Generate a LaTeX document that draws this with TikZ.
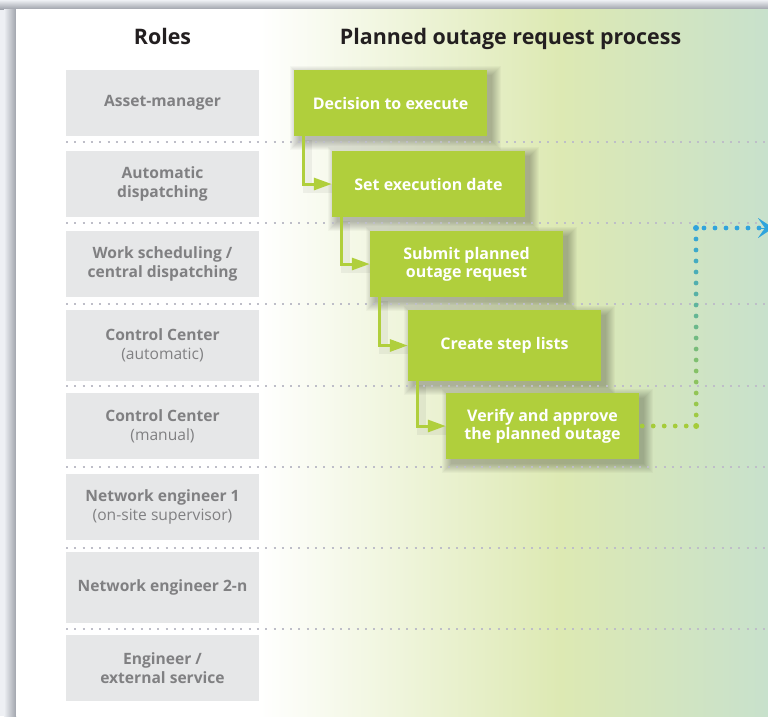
\documentclass[tikz,border=0pt]{standalone}
\usepackage{fontspec}
\setmainfont{Open Sans}
\usetikzlibrary{arrows.meta,calc}
\definecolor{gbox}{RGB}{176,207,60}
\definecolor{rbox}{RGB}{230,231,232}
\definecolor{rtext}{RGB}{128,128,130}
\definecolor{htext}{RGB}{35,31,32}
\definecolor{dotgray}{RGB}{190,190,200}
\definecolor{dgreen}{RGB}{165,204,58}
\definecolor{dblue}{RGB}{48,164,220}
\definecolor{bgmid}{RGB}{221,233,179}
\definecolor{bgright}{RGB}{200,225,204}
\definecolor{framelight}{RGB}{238,240,244}
\definecolor{framedark}{RGB}{160,164,172}
\pgfdeclarelayer{back}
\pgfdeclarelayer{shadow}
\pgfsetlayers{back,shadow,main}
\begin{document}
\begin{tikzpicture}[x=1pt,y=-1pt,
  rolebox/.style={fill=rbox, minimum width=193pt, inner sep=0pt, text=rtext,
    font=\fontsize{15.6}{18.8}\selectfont\bfseries, align=center},
  stepbox/.style={fill=gbox, minimum width=193pt, inner sep=0pt, text=white,
    font=\fontsize{16}{18}\selectfont\bfseries, align=center},
  flow/.style={draw=gbox, line width=3pt, -{Triangle[length=18pt,width=12pt]}},
  flowshadow/.style={draw=black, opacity=0.05, line width=9pt},
  lane/.style={draw=dotgray, line width=2pt, dash pattern=on 2pt off 6.3pt},
  head/.style={text=htext, font=\fontsize{21.4}{25}\selectfont\bfseries, anchor=base}]
\useasboundingbox (0,0) rectangle (768,716);
% frame and panel
\begin{pgfonlayer}{back}
\fill[framelight] (0,0) rectangle (768,716);
\shade[top color=framelight, bottom color=framedark] (0,0) rectangle (768,9);
\shade[left color=framelight, right color=framedark] (4,9) rectangle (16,716);
\fill[white] (16,9) rectangle (768,716);
\shade[left color=white, right color=bgmid] (258,9) rectangle (560,716);
\shade[left color=bgmid, right color=bgright] (560,9) rectangle (768,716);
\end{pgfonlayer}
% headers
\node[head] (hroles) at (162.5,44) {Roles};
\node[head] (hproc) at (510.5,44) {Planned outage request process};
% lane separators
\foreach \y in {142,223,304,386,467,548,629}
  \draw[lane] (66,\y) -- (768,\y);
% roles
\node[rolebox, minimum height=66pt] (r1) at (162.5,103) {Asset-manager};
\node[rolebox, minimum height=66pt] (r2) at (162.5,184) {Automatic\\dispatching};
\node[rolebox, minimum height=66pt] (r3) at (162.5,264) {Work scheduling /\\central dispatching};
\node[rolebox, minimum height=71pt] (r4) at (162.5,345.5) {Control Center\\{\mdseries(automatic)}};
\node[rolebox, minimum height=66pt] (r5) at (162.5,426) {Control Center\\{\mdseries(manual)}};
\node[rolebox, minimum height=66pt] (r6) at (162.5,507) {Network engineer 1\\{\mdseries(on-site supervisor)}};
\node[rolebox, minimum height=71pt] (r7) at (162.5,587.5) {Network engineer 2-n};
\node[rolebox, minimum height=66pt] (r8) at (162.5,668) {Engineer /\\external service};
% process steps
\node[stepbox, minimum height=66pt] (d1) at (390.5,103) {Decision to execute};
\node[stepbox, minimum height=66pt] (d2) at (428.5,184) {Set execution date};
\node[stepbox, minimum height=66pt] (d3) at (466.5,264) {Submit planned\\outage request};
\node[stepbox, minimum height=71pt] (d4) at (504.5,345.5) {Create step lists};
\node[stepbox, minimum height=66pt] (d5) at (542.5,426) {Verify and approve\\the planned outage};
% soft shadows of the steps and connectors
\begin{pgfonlayer}{shadow}
\foreach \n in {d1,d2,d3,d4,d5}{
  \foreach \r in {0,...,9}{
    \fill[black, opacity=0.028]
      ($(\n.north west)+(\r-4,\r-4)$) rectangle ($(\n.south east)+(14-\r,14-\r)$);
  }
}
\foreach \a/\b in {d1/d2,d2/d3,d3/d4,d4/d5}
  \draw[flowshadow] ([xshift=14pt,yshift=-4pt]\a.south west) |- ([yshift=-4pt]\b.west);
\end{pgfonlayer}
% connectors
\draw[flow] ([xshift=10pt]d1.south west) |- (d2.west);
\draw[flow] ([xshift=10pt]d2.south west) |- (d3.west);
\draw[flow] ([xshift=10pt]d3.south west) |- (d4.west);
\draw[flow] ([xshift=10pt]d4.south west) |- (d5.west);
% dotted outgoing connector
\coordinate (k1) at ($(d5.east)+(57pt,0)$);
\coordinate (k2) at (696,228);
\coordinate (kend) at (773,228);
\foreach \i in {1,...,5}
  \fill[dgreen] ($(d5.east)+(\i*11-8,0)$) circle (2.4pt);
\fill[dgreen] (k1) circle (3pt);
\foreach \i in {1,...,17}{
  \pgfmathsetmacro\p{100*\i/18}
  \fill[dblue!\p!dgreen] ($(k1)!\i/18!(k2)$) circle (2.4pt);
}
\fill[dblue] (k2) circle (3pt);
\foreach \i in {1,...,6}
  \fill[dblue] ($(k2)+(\i*11-3,0)$) circle (2.4pt);
\draw[dblue, line width=0.1pt, -{Stealth[length=15pt,width=20pt,inset=7pt]}] (758,228) -- (kend);
\end{tikzpicture}
\end{document}
